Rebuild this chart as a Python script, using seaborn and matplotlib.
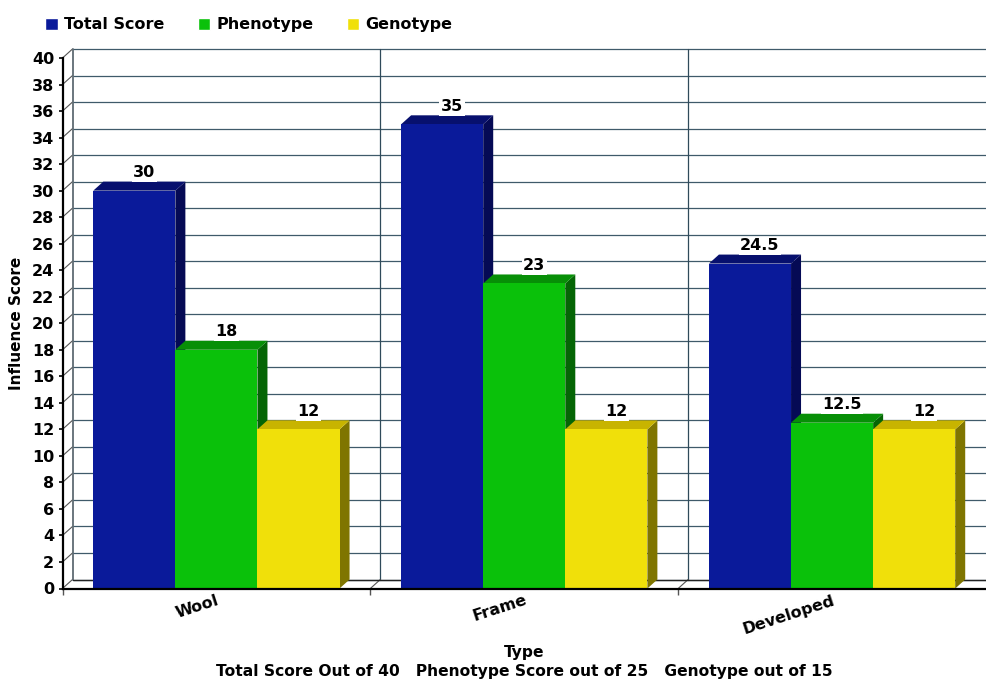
import matplotlib
matplotlib.use('Agg')
import matplotlib.pyplot as plt
from matplotlib.patches import Polygon
import pandas as pd
import seaborn as sns

types = ['Wool', 'Frame', 'Developed']
total_score = [30, 35, 24.5]
phenotype = [18, 23, 12.5]
genotype = [12, 12, 12]
y_ticks = list(range(0, 41, 2))

front_colors = ['#0A1A9A', '#0AC10A', '#F0E00A']
top_colors = ['#07106E', '#078F07', '#C8B400']
side_colors = ['#050A55', '#056505', '#7F7500']
grid_color = '#3F5A6A'
depth_px = (10, 9)

sns.set_theme(style='white')
plt.rcParams['font.family'] = ['DejaVu Sans']
plt.rcParams['font.weight'] = 'bold'
plt.rcParams['text.color'] = 'black'

df = pd.DataFrame({'Type': types, 'Total Score': total_score,
                   'Phenotype': phenotype, 'Genotype': genotype})
df = df.melt(id_vars='Type', var_name='Series', value_name='Score')

fig = plt.figure(figsize=(9.86, 6.82), dpi=100)
ax = fig.add_axes([62.5 / 986, 1 - 588.5 / 682, 923.5 / 986, 530.5 / 682])

sns.barplot(data=df, x='Type', y='Score', hue='Series', palette=front_colors,
            saturation=1, width=0.8, gap=0, ax=ax)
ax.set_xlim(-0.5, 2.5)
ax.set_ylim(0, 40)

# depth of the fake 3D, px converted to data units
dx = depth_px[0] / 923.5 * 3
dy = depth_px[1] / 530.5 * 40

# back wall grid
for v in y_ticks:
    ax.plot([-0.5 + dx, 2.5], [v + dy, v + dy], color=grid_color, lw=0.9, zorder=1, clip_on=False)
    ax.plot([-0.5, -0.5 + dx], [v, v + dy], color='#555555', lw=0.8, zorder=1, clip_on=False)
ax.plot([-0.5 + dx, -0.5 + dx], [dy, 40 + dy], color='#5F6B73', lw=1.3, zorder=1, clip_on=False)
for x in [0.5, 1.5]:
    ax.plot([x + dx, x + dx], [dy, 40 + dy], color='#2F4A5A', lw=0.9, zorder=1, clip_on=False)
    ax.plot([x, x + dx], [0, dy], color='#555555', lw=0.8, zorder=1, clip_on=False)
ax.plot([-0.5 + dx, 2.5], [dy, dy], color='#222222', lw=1, zorder=1, clip_on=False)

# 3D sides and tops, drawn left to right so each bar hides the one before
bars = []
for i, cont in enumerate(ax.containers):
    for b in cont:
        bars.append((b, i))
bars.sort(key=lambda item: item[0].get_x())
z = 3
for b, i in bars:
    x0, w, h = b.get_x(), b.get_width(), b.get_height()
    ax.add_patch(Polygon([(x0 + w, 0), (x0 + w + dx, dy), (x0 + w + dx, h + dy), (x0 + w, h)],
                         facecolor=side_colors[i], edgecolor='none', zorder=z))
    ax.add_patch(Polygon([(x0, h), (x0 + dx, h + dy), (x0 + w + dx, h + dy), (x0 + w, h)],
                         facecolor=top_colors[i], edgecolor='none', zorder=z))
    b.set_zorder(z + 1)
    b.set_edgecolor('none')
    z += 2

# value labels
for b, i in bars:
    x0, w, h = b.get_x(), b.get_width(), b.get_height()
    ax.text(x0 + w / 2 + dx, h + dy + 0.1, '%g' % h, ha='center', va='bottom', fontsize=11.5,
            fontweight='bold', color='black', zorder=50,
            bbox=dict(facecolor='white', edgecolor='none', pad=1.2))

ax.set_yticks(y_ticks)
ax.tick_params(axis='y', length=3, width=1.2, color='black', labelsize=11.5, labelcolor='black',
               pad=3, left=True)
ax.set_xticks(range(len(types)))
ax.set_xticklabels(types, rotation=18, ha='right', rotation_mode='anchor', fontsize=11.5,
                   fontweight='bold', color='black')
ax.tick_params(axis='x', which='major', length=0, pad=3)
ax.set_xticks([-0.5, 0.5, 1.5], minor=True)
ax.tick_params(axis='x', which='minor', length=4, width=1, color='#555555', bottom=True)

for s in ['top', 'right']:
    ax.spines[s].set_visible(False)
for s in ['left', 'bottom']:
    ax.spines[s].set_color('black')
    ax.spines[s].set_linewidth(1.6)
    ax.spines[s].set_zorder(60)

ax.set_ylabel('Influence Score', fontsize=11, fontweight='bold', color='black')
ax.yaxis.set_label_coords((24 - 62.5) / 923.5, 0.5)
ax.set_xlabel('Type\nTotal Score Out of 40   Phenotype Score out of 25   Genotype out of 15',
              fontsize=11.2, fontweight='bold', color='black', linespacing=1.35, va='top')
ax.xaxis.set_label_coords(0.5, -(645 - 588.5) / 530.5)

handles, labels = ax.get_legend_handles_labels()
ax.legend(handles, labels, loc='upper left', bbox_to_anchor=(31 / 986, 1 - 3 / 682),
          bbox_transform=fig.transFigure, ncol=3, frameon=False, fontsize=11.5,
          handlelength=0.8, handleheight=0.8, handletextpad=0.35, columnspacing=2.1,
          labelcolor='black', title=None)

fig.savefig('out.png', dpi=100, facecolor='white')
